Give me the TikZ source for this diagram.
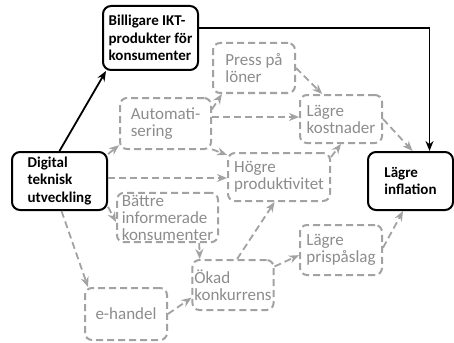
\documentclass[tikz,border=0pt]{standalone}
\usepackage{fontspec}
\setmainfont{Carlito}
\usetikzlibrary{arrows.meta}

\definecolor{dashgray}{HTML}{A2A2A2}
\definecolor{textgray}{HTML}{8C8C8C}

\begin{document}
\begin{tikzpicture}[
  x=1pt, y=-1pt,
  mainbox/.style={rectangle, rounded corners=8pt, draw, line width=2pt,
    align=left, font=\fontsize{15}{17.5}\selectfont\bfseries, inner sep=2pt},
  effect/.style={rectangle, rounded corners=7pt, draw=dashgray, line width=2pt,
    dash pattern=on 7pt off 4pt, text=textgray, align=left,
    font=\fontsize{17}{17}\selectfont, inner sep=2pt},
  arrow/.style={-{Stealth[length=10pt, width=8pt]}, line width=1.8pt},
  darrow/.style={arrow, dashgray, dash pattern=on 7pt off 4pt}
]
  \useasboundingbox (0,0) rectangle (454,342);

  % solid boxes
  \node[mainbox, minimum width=95pt, minimum height=64pt] (ikt) at (150.5,38)
    {Billigare IKT-\\produkter för\\konsumenter};
  \node[mainbox, minimum width=95pt, minimum height=58pt] (dig) at (59.5,181)
    {Digital\\teknisk\\utveckling};
  \node[mainbox, minimum width=85pt, minimum height=58pt] (inf) at (410.5,181)
    {Lägre\\inflation};

  % dashed boxes
  \node[effect, minimum width=91pt, minimum height=51pt] (auto) at (165.5,123.5)
    {Automati-\\sering};
  \node[effect, minimum width=82pt, minimum height=50pt] (press) at (254,68)
    {Press på\\löner};
  \node[effect, minimum width=82pt, minimum height=48pt] (kost) at (341,119)
    {Lägre\\kostnader};
  \node[effect, minimum width=102pt, minimum height=48pt] (hog) at (279,177)
    {Högre\\produktivitet};
  \node[effect, minimum width=101pt, minimum height=49pt] (bat) at (167.5,217.5)
    {Bättre\\informerade\\konsumenter};
  \node[effect, minimum width=80pt, minimum height=50pt] (okad) at (233,285)
    {Ökad\\konkurrens};
  \node[effect, minimum width=82pt, minimum height=50pt] (pris) at (341,250)
    {Lägre\\prispåslag};
  \node[effect, minimum width=82pt, minimum height=52pt] (ehandel) at (126,314)
    {e-handel};

  \draw[arrow] (dig.north) -- ([xshift=4pt]ikt.south west);
  \draw[arrow] ([yshift=10pt]ikt.east) -| ([xshift=19pt]inf.north);

  \draw[darrow] (dig.29) -- (auto.205);
  \draw[darrow] ([yshift=3pt]dig.east) -- ([yshift=-1pt]hog.west);
  \draw[darrow] (dig.-28) -- (bat.185);
  \draw[darrow] ([xshift=2pt]dig.south) -- ([xshift=4pt]ehandel.north west);
  \draw[darrow] (auto.17) -- (press.219);
  \draw[darrow] ([yshift=6.5pt]auto.east) -- ([yshift=2pt]kost.west);
  \draw[darrow] (auto.-29) -- (hog.157);
  \draw[darrow] (press.east) -- (kost.127);
  \draw[darrow] (kost.east) -- ([xshift=2pt]inf.north);
  \draw[darrow] (hog.21) -- (kost.south);
  \draw[darrow] (bat.-39) -- (okad.142);
  \draw[darrow] (okad.81) -- (hog.260);
  \draw[darrow] (okad.24) -- (pris.187);
  \draw[darrow] (ehandel.east) -- (okad.197);
  \draw[darrow] (pris.3) -- (inf.256);
\end{tikzpicture}
\end{document}
